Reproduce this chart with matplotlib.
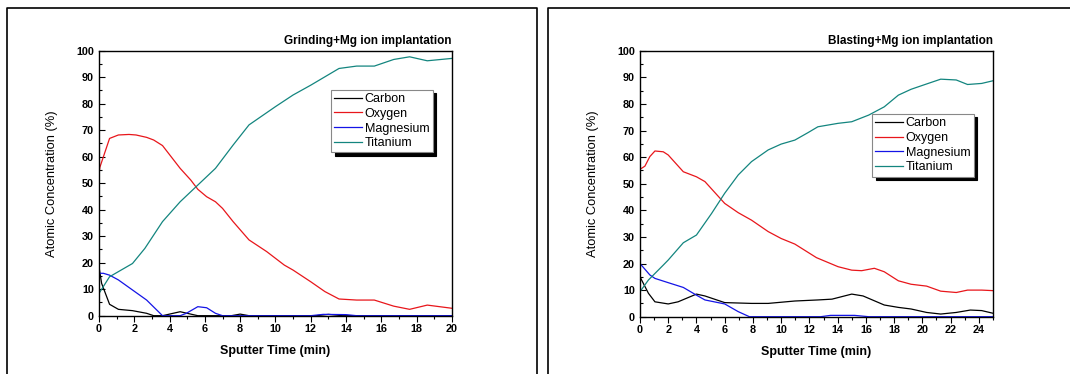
import numpy as np
import matplotlib
matplotlib.use('Agg')
import matplotlib.pyplot as plt
from matplotlib.lines import Line2D

plt.rcParams['font.family'] = ['Liberation Sans', 'DejaVu Sans']

# ---- Grinding + Mg ion implantation ----
g_ti_x = [0, 0.6, 1.9, 2.6, 3.6, 4.6, 5.6, 6.6, 7.6, 8.5, 10, 11, 12, 13.6, 14.6, 15.6, 16.7, 17.6, 18.6, 20]
g_ti_y = [8.4, 14.7, 19.7, 25.4, 35.5, 43, 49.3, 55.6, 64.4, 72, 78.9, 83.3, 87, 93.3, 94.2, 94.2, 96.7, 97.7, 96.2, 97.1]

g_o_x = [0, 0.05, 0.6, 1.1, 1.7, 2.1, 2.7, 3.1, 3.6, 4.6, 5.2, 5.6, 6.1, 6.6, 7.0, 7.6, 8.5, 9.5, 10.5, 11, 12, 12.8, 13.6, 14.6, 15.6, 16.7, 17.6, 18.6, 20]
g_o_y = [53.7, 56, 66.9, 68.2, 68.4, 68.2, 67.3, 66.3, 64.2, 55.6, 51.2, 47.7, 44.9, 43, 40.5, 35.5, 28.6, 24.2, 19.1, 17.2, 12.8, 9.1, 6.3, 5.9, 5.9, 3.6, 2.4, 4.0, 2.8]

g_c_x = [0, 0.15, 0.6, 1.1, 1.9, 2.7, 3.1, 3.6, 4.6, 5.2, 5.6, 7.5, 8.0, 8.5, 12.3, 13.0, 13.8, 20]
g_c_y = [18.5, 12.2, 4.3, 2.4, 1.9, 0.9, 0, 0, 1.5, 0.6, 0, 0, 0.6, 0, 0, 0.5, 0, 0]

g_mg_x = [0, 0.25, 0.6, 1.1, 1.9, 2.7, 3.6, 4.6, 4.95, 5.6, 6.1, 6.6, 7.0, 12.0, 12.7, 14.0, 14.6, 20]
g_mg_y = [16, 16, 15.3, 13.5, 9.7, 5.9, 0, 0, 0.9, 3.4, 3.0, 0.9, 0, 0, 0.5, 0.4, 0, 0]

# ---- Blasting + Mg ion implantation ----
b_ti_x = [0, 0.6, 1.65, 2, 3.07, 4, 5.07, 6, 6.96, 7.9, 9.08, 10, 10.97, 11.9, 12.6, 14.03, 15, 16.2, 17.3, 18.3, 19.2, 20.3, 21.3, 22.4, 23.2, 24.2, 25]
b_ti_y = [9.4, 13.8, 19.4, 21.3, 27.8, 30.7, 38.8, 46.4, 53.3, 58.3, 62.7, 64.9, 66.4, 69.2, 71.4, 72.7, 73.3, 75.8, 78.9, 83.3, 85.5, 87.5, 89.3, 89, 87.3, 87.7, 88.7]

b_o_x = [0, 0.35, 0.7, 1.06, 1.65, 2, 3.07, 4, 4.6, 6, 6.96, 7.9, 9.08, 10, 10.97, 12.5, 14.03, 15, 15.7, 16.6, 17.3, 18.3, 19.2, 20.3, 21.3, 22.4, 23.2, 24.2, 25]
b_o_y = [55.4, 56.6, 60.2, 62.3, 62, 60.8, 54.5, 52.6, 50.8, 42.6, 39.1, 36.3, 32, 29.4, 27.3, 22.2, 18.8, 17.5, 17.3, 18.2, 16.9, 13.5, 12.2, 11.5, 9.6, 9.1, 10, 10, 9.8]

b_c_x = [0, 0.6, 1.06, 2, 2.7, 4, 4.6, 6, 7.9, 9.08, 10.97, 12.6, 13.6, 15, 15.8, 17.3, 18.3, 19.2, 20.3, 21.3, 22.4, 23.4, 24.2, 25]
b_c_y = [15, 8.8, 5.6, 4.8, 5.6, 8.5, 7.8, 5.3, 5, 5, 5.9, 6.3, 6.6, 8.5, 7.8, 4.4, 3.5, 2.9, 1.6, 1.0, 1.6, 2.5, 2.3, 1.3]

b_mg_x = [0, 0.7, 1.06, 2, 3.07, 4, 4.6, 6, 6.96, 7.75, 12.8, 13.5, 15.2, 16.2, 25]
b_mg_y = [20, 15.7, 14.4, 12.8, 11, 8.1, 6.3, 4.8, 1.9, 0, 0, 0.5, 0.5, 0, 0]

names = ['Carbon', 'Oxygen', 'Magnesium', 'Titanium']
colors = ['black', '#e8161b', '#1414e6', '#13857f']

panels = [
    ('Grinding+Mg ion implantation', 20, [(g_c_x, g_c_y), (g_o_x, g_o_y), (g_mg_x, g_mg_y), (g_ti_x, g_ti_y)],
     [0.0925, 0.1559, 0.3299, 0.7085], (0.945, 0.852)),
    ('Blasting+Mg ion implantation', 25, [(b_c_x, b_c_y), (b_o_x, b_o_y), (b_mg_x, b_mg_y), (b_ti_x, b_ti_y)],
     [0.5981, 0.1532, 0.3299, 0.7112], (0.945, 0.762)),
]

fig = plt.figure(figsize=(10.7, 3.74), dpi=100)

for title, xmax, series, rect, legpos in panels:
    ax = fig.add_axes(rect)
    for (xs, ys), name, col in zip(series, names, colors):
        ax.plot(xs, ys, color=col, lw=0.9, label=name)
    ax.set_xlim(0, xmax)
    ax.set_ylim(0, 100)
    ax.set_xticks(np.arange(0, xmax + 1, 2))
    ax.set_xticks(np.arange(0, xmax + 0.5, 1), minor=True)
    ax.set_yticks(np.arange(0, 101, 10))
    ax.set_yticks(np.arange(0, 101, 5), minor=True)
    ax.tick_params(axis='y', which='both', direction='in', labelsize=7.8, width=0.8)
    ax.tick_params(axis='x', which='both', direction='out', labelsize=7.8, width=0.8, pad=2)
    ax.tick_params(which='major', length=4)
    ax.tick_params(which='minor', length=2.5)
    for lab in ax.get_xticklabels() + ax.get_yticklabels():
        lab.set_fontweight('bold')
    for sp in ax.spines.values():
        sp.set_linewidth(1.0)
    ax.set_title(title, loc='right', fontsize=8.5, fontweight='bold', pad=5)
    ax.set_ylabel('Atomic Concentration (%)', fontsize=9.3)
    ax.yaxis.set_label_coords(-0.116, 0.5)
    ax.set_xlabel('Sputter Time (min)', fontsize=9, fontweight='bold')
    ax.xaxis.set_label_coords(0.5, -0.11)
    leg = ax.legend(loc='upper right', bbox_to_anchor=legpos, fontsize=9, frameon=True,
                    fancybox=False, shadow={'color': 'black', 'alpha': 1, 'ox': 2.5, 'oy': -2.5},
                    handlelength=2.2, borderpad=0.25, labelspacing=0.22, handletextpad=0.25,
                    borderaxespad=0)
    leg.get_frame().set_edgecolor('#888888')
    leg.get_frame().set_linewidth(0.8)

# outer panel frames (open at the bottom)
def frame(x0, x1, y0):
    H = 374.0
    W = 1070.0
    fig.add_artist(Line2D([x0 / W, x0 / W, x1 / W, x1 / W], [0, 1 - y0 / H, 1 - y0 / H, 0],
                          transform=fig.transFigure, color='black', lw=1.2))

frame(6.5, 536.5, 7.5)
frame(547.5, 1072, 7.5)

fig.savefig('out.png', dpi=100)
